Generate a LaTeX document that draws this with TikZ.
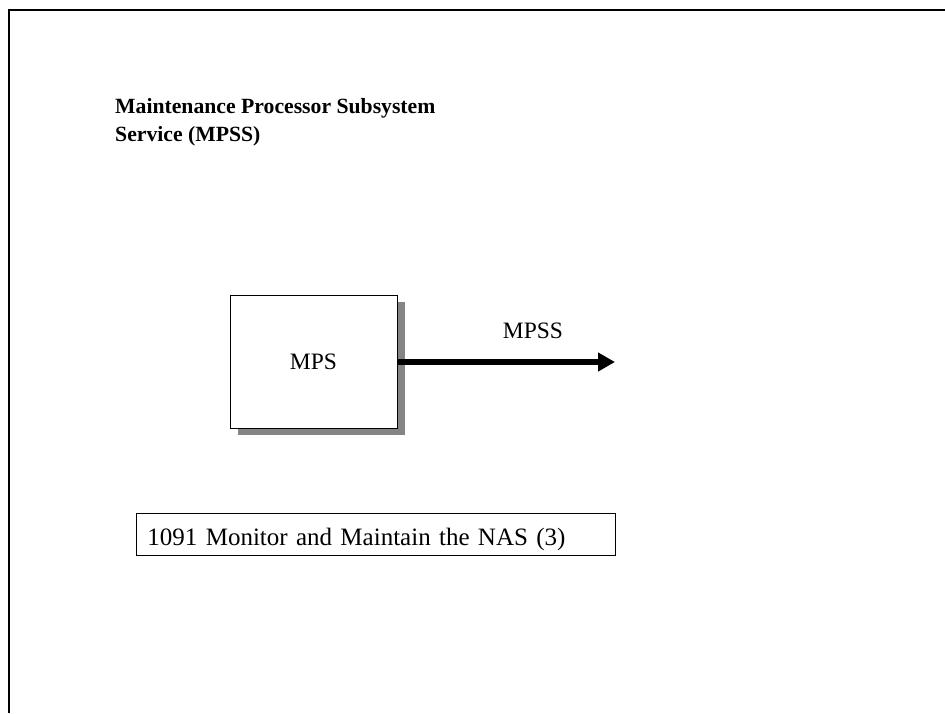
\documentclass[tikz,border=0pt]{standalone}
\usepackage{fontspec}
\setmainfont{Liberation Serif}
\usetikzlibrary{arrows.meta,shadows}
\begin{document}
\begin{tikzpicture}[x=1pt,y=-1pt,
  frameline/.style={line width=2.5pt},
  mpsbox/.style={draw, fill=white, line width=0.9pt, minimum width=167pt, minimum height=133pt, inner sep=0pt,
    font=\fontsize{23.5}{28}\selectfont,
    drop shadow={shadow xshift=8pt, shadow yshift=-7pt, fill=black!48, opacity=1}},
  flowarrow/.style={line width=6pt, -{Triangle[length=17pt,width=18pt]}},
  flowlabel/.style={font=\fontsize{23.5}{28}\selectfont, inner sep=0pt},
  titletext/.style={font=\bfseries\fontsize{21.7}{28}\selectfont, align=left, inner sep=0pt},
  refbox/.style={draw, line width=0.9pt, inner ysep=0pt, inner xsep=11pt, text width=457pt, align=left,
    text height=32pt, text depth=10pt, font=\fontsize{25}{30}\selectfont}
]
\useasboundingbox (0,0) rectangle (945,713);
\coordinate (ftop) at (945,10);
\coordinate (fcorner) at (9,10);
\coordinate (fbottom) at (9,713);
\draw[frameline] (ftop) -- (fcorner) -- (fbottom);

\node[titletext, anchor=north west] (title) at (115,98) {Maintenance Processor Subsystem\\Service (MPSS)};

\node[mpsbox] (mps) at (313.5,361.5) {MPS};
\coordinate (tip) at (615,362);
\draw[flowarrow] (mps.east |- tip) -- (tip);
\node[flowlabel, anchor=base] (mpsslabel) at (533,338) {MPSS};

\node[refbox, anchor=base west] (nas) at (136,545) {1091 Monitor and Maintain the NAS (3)};
\end{tikzpicture}
\end{document}
